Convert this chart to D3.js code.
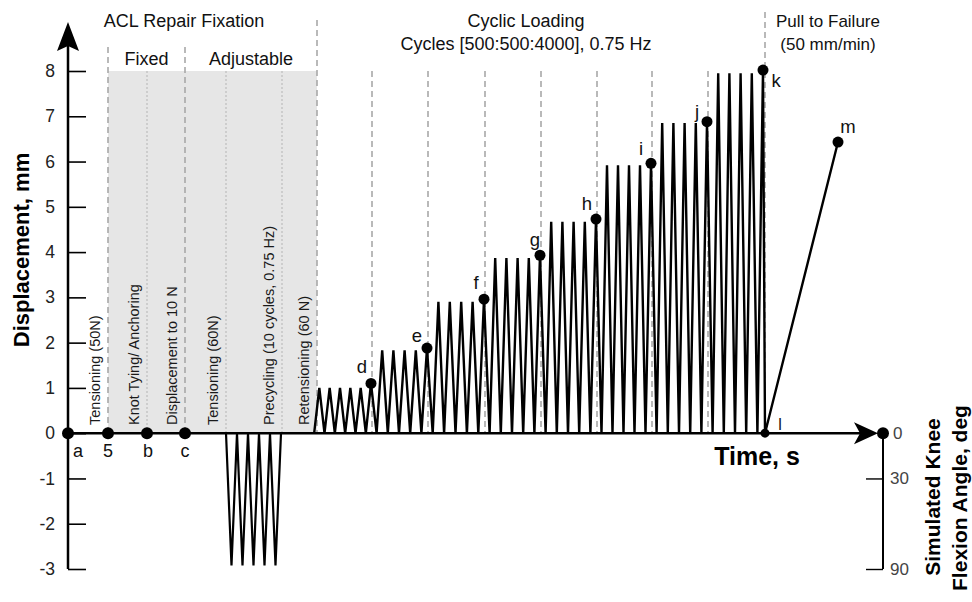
<!DOCTYPE html>
<html>
<head>
<meta charset="utf-8">
<script src="https://cdn.jsdelivr.net/npm/d3@7"></script>
<style>
  body { margin: 0; background: #fff; }
  svg { font-family: "Liberation Sans", Arial, sans-serif; }
</style>
</head>
<body>
<svg id="chart" width="972" height="602"></svg>
<script>
// axis ticks
var yTicks = [-3, -2, -1, 0, 1, 2, 3, 4, 5, 6, 7, 8];
var angleTicks = [0, 30, 90];

// fixation events (schematic time units)
var eventNames = ["a", "5", "b", "c"];
var eventTimes = [0, 40, 79, 117];

// fixation steps
var stepTimes = [40, 79, 117, 158, 214, 249];
var stepDashed = [true, false, true, false, false, true];
var stepLabels = ["Tensioning (50N)", "Knot Tying/ Anchoring", "Displacement to 10 N",
  "Tensioning (60N)", "Precycling (10 cycles, 0.75 Hz)", "Retensioning (60 N)"];

// precycling (knee flexion, shown as negative displacement)
var precycleStart = 158, precycleEnd = 213, precycleCount = 5, precycleDepth = -2.92;

// cyclic loading blocks
var blockBounds = [241, 303, 359, 416, 472, 528, 583, 639, 695];
var blockCycles = [6, 5, 5, 5, 5, 5, 5, 5];
var plateauLevels = [1.0, 1.83, 2.90, 3.87, 4.67, 5.92, 6.85, 7.95];
var markerNames = ["d", "e", "f", "g", "h", "i", "j", "k"];
var markerLevels = [1.10, 1.88, 2.96, 3.93, 4.73, 5.96, 6.88, 8.02];

// pull to failure
var failureNames = ["l", "m"];
var failureTimes = [697, 770];
var failureLevels = [0, 6.43];

var svg = d3.select("#chart");
var x = d3.scaleLinear().domain([0, 810]).range([68, 878]);
var y = d3.scaleLinear().domain([-3, 8]).range([569, 71]);
var angle = d3.scaleLinear().domain([0, 90]).range([y(0), y(-3)]);
var rightX = x(815);

var line = d3.line().x(function(d) { return x(d[0]); }).y(function(d) { return y(d[1]); });

// shaded fixation area
svg.append("rect")
  .attr("x", x(stepTimes[0])).attr("y", y(8))
  .attr("width", x(stepTimes[5]) - x(stepTimes[0]))
  .attr("height", y(0) - y(8))
  .attr("fill", "#e6e6e6");

// step lines
var stepTop = [47, null, 47, null, null, 20];
stepTimes.forEach(function(t, i) {
  svg.append("line")
    .attr("x1", x(t)).attr("x2", x(t))
    .attr("y1", stepDashed[i] ? stepTop[i] : y(8)).attr("y2", y(0))
    .attr("stroke", stepDashed[i] ? "#a8a8a8" : "#b4b4b4")
    .attr("stroke-width", stepDashed[i] ? 1.6 : 1)
    .attr("stroke-dasharray", stepDashed[i] ? "6,4" : "2,2");
  svg.append("text")
    .attr("transform", "translate(" + (x(t) - 8) + "," + 425 + ") rotate(-90)")
    .attr("font-size", 14.5)
    .attr("fill", "#1a1a1a")
    .text(stepLabels[i]);
});

// cyclic block lines
blockBounds.slice(1, 8).forEach(function(t) {
  svg.append("line")
    .attr("x1", x(t) + 1).attr("x2", x(t) + 1)
    .attr("y1", y(8)).attr("y2", y(0))
    .attr("stroke", "#a8a8a8").attr("stroke-width", 1.6)
    .attr("stroke-dasharray", "6,4");
});
svg.append("line")
  .attr("x1", x(failureTimes[0])).attr("x2", x(failureTimes[0]))
  .attr("y1", 12).attr("y2", y(0))
  .attr("stroke", "#a8a8a8").attr("stroke-width", 1.6)
  .attr("stroke-dasharray", "6,4");

// headers
function header(tx, ty, str, size) {
  svg.append("text").attr("x", tx).attr("y", ty)
    .attr("text-anchor", "middle").attr("font-size", size || 18)
    .attr("fill", "#111").text(str);
}
header(x(116), 27, "ACL Repair Fixation");
header(x(78.5), 65, "Fixed");
header(x(183), 65, "Adjustable");
header(x(458), 27, "Cyclic Loading");
header(x(458), 50, "Cycles [500:500:4000], 0.75 Hz");
header(x(760), 27, "Pull to Failure", 17);
header(x(760), 50, "(50 mm/min)", 17);

// precycling
var prePts = [[precycleStart, 0]];
var pp = (precycleEnd - precycleStart) / precycleCount;
for (var i = 0; i < precycleCount; i++) {
  prePts.push([precycleStart + (i + 0.5) * pp, precycleDepth]);
  prePts.push([precycleStart + (i + 1) * pp, 0]);
}
svg.append("path").attr("d", line(prePts))
  .attr("fill", "none").attr("stroke", "#000").attr("stroke-width", 2.2);

// cyclic loading + pull to failure
var cyclePts = [];
blockCycles.forEach(function(n, k) {
  var t0 = blockBounds[k], p = (blockBounds[k + 1] - t0) / n;
  for (var j = 0; j < n; j++) {
    cyclePts.push([t0 + (j + 0.5) * p, 0]);
    cyclePts.push([t0 + (j + 1) * p, j === n - 1 ? markerLevels[k] : plateauLevels[k]]);
  }
});
cyclePts.push([failureTimes[0], failureLevels[0]]);
cyclePts.push([failureTimes[1], failureLevels[1]]);
svg.append("path").attr("d", line(cyclePts))
  .attr("fill", "none").attr("stroke", "#000").attr("stroke-width", 2.4)
  .attr("stroke-linejoin", "miter").attr("stroke-miterlimit", 3);

// left axis
svg.append("line")
  .attr("x1", x(0)).attr("x2", x(0)).attr("y1", y(-3)).attr("y2", 45)
  .attr("stroke", "#000").attr("stroke-width", 2.5);
svg.append("path")
  .attr("d", "M" + x(0) + ",22L" + (x(0) - 11) + ",51L" + x(0) + ",46L" + (x(0) + 11) + ",51Z")
  .attr("fill", "#000");
var yAxis = svg.append("g").attr("transform", "translate(" + x(0) + ",0)")
  .call(d3.axisLeft(y).tickValues(yTicks).tickSize(-18).tickPadding(13)
    .tickFormat(function(d) { return String(d); }));
yAxis.select(".domain").remove();
yAxis.selectAll(".tick line").attr("stroke", "#000").attr("stroke-width", 1.6);
yAxis.selectAll(".tick text").attr("font-size", 17.5).attr("fill", "#222")
  .attr("font-family", "Liberation Sans, Arial, sans-serif");

// time axis
svg.append("line")
  .attr("x1", x(0)).attr("x2", x(800)).attr("y1", y(0)).attr("y2", y(0))
  .attr("stroke", "#000").attr("stroke-width", 2.5);
svg.append("path")
  .attr("d", "M" + x(810) + "," + y(0) + "L" + (x(810) - 24) + "," + (y(0) - 11) +
    "L" + (x(810) - 18) + "," + y(0) + "L" + (x(810) - 24) + "," + (y(0) + 11) + "Z")
  .attr("fill", "#000");
svg.append("text").attr("x", 757).attr("y", 465)
  .attr("text-anchor", "middle").attr("font-size", 25).attr("font-weight", "bold")
  .text("Time, s");

// right (knee flexion) axis
svg.append("line")
  .attr("x1", rightX).attr("x2", rightX).attr("y1", y(0)).attr("y2", angle(90))
  .attr("stroke", "#000").attr("stroke-width", 2);
var aAxis = svg.append("g").attr("transform", "translate(" + rightX + ",0)")
  .call(d3.axisRight(angle).tickValues(angleTicks).tickSize(-17).tickPadding(7));
aAxis.select(".domain").remove();
aAxis.selectAll(".tick line").attr("stroke", "#000").attr("stroke-width", 1.4)
  .filter(function(d) { return d === 0; }).remove();
aAxis.selectAll(".tick text").attr("font-size", 17).attr("fill", "#444")
  .attr("font-family", "Liberation Sans, Arial, sans-serif");
aAxis.selectAll(".tick").filter(function(d) { return d === 0; })
  .select("text").attr("x", 10);

// axis titles
svg.append("text")
  .attr("transform", "translate(29,250) rotate(-90)")
  .attr("text-anchor", "middle").attr("font-size", 22).attr("font-weight", "bold")
  .text("Displacement, mm");
svg.append("text")
  .attr("transform", "translate(940,497) rotate(-90)")
  .attr("text-anchor", "middle").attr("font-size", 21).attr("font-weight", "bold")
  .text("Simulated Knee");
svg.append("text")
  .attr("transform", "translate(967,498) rotate(-90)")
  .attr("text-anchor", "middle").attr("font-size", 21).attr("font-weight", "bold")
  .text("Flexion Angle, deg");

// event dots and labels
var eventLabelDx = [10, 0, 1, 0];
eventTimes.forEach(function(t, i) {
  svg.append("circle").attr("cx", x(t)).attr("cy", y(0)).attr("r", 6).attr("fill", "#000");
  svg.append("text").attr("x", x(t) + eventLabelDx[i]).attr("y", 457)
    .attr("text-anchor", "middle").attr("font-size", 18).attr("fill", "#111")
    .text(eventNames[i]);
});
svg.append("circle").attr("cx", rightX).attr("cy", y(0)).attr("r", 6).attr("fill", "#000");

// cyclic markers
var markerDx = [-9, -10, -8, -5, -9, -10, -10, 13];
var markerDy = [-10, -6, -10, -9, -9, -8, -4, 17];
markerNames.forEach(function(name, k) {
  var cx = x(blockBounds[k + 1]), cy = y(markerLevels[k]);
  svg.append("circle").attr("cx", cx).attr("cy", cy).attr("r", 5.5).attr("fill", "#000");
  svg.append("text").attr("x", cx + markerDx[k]).attr("y", cy + markerDy[k])
    .attr("text-anchor", "middle").attr("font-size", 18.5).attr("fill", "#111")
    .text(name);
});

// failure points
svg.append("circle").attr("cx", x(failureTimes[0])).attr("cy", y(failureLevels[0]))
  .attr("r", 4.5).attr("fill", "#000");
svg.append("text").attr("x", x(failureTimes[0]) + 15).attr("y", y(0) - 3)
  .attr("text-anchor", "middle").attr("font-size", 16).attr("fill", "#111")
  .text(failureNames[0]);
svg.append("circle").attr("cx", x(failureTimes[1])).attr("cy", y(failureLevels[1]))
  .attr("r", 5.5).attr("fill", "#000");
svg.append("text").attr("x", x(failureTimes[1]) + 10).attr("y", y(failureLevels[1]) - 9)
  .attr("text-anchor", "middle").attr("font-size", 18.5).attr("fill", "#111")
  .text(failureNames[1]);
</script>
</body>
</html>
